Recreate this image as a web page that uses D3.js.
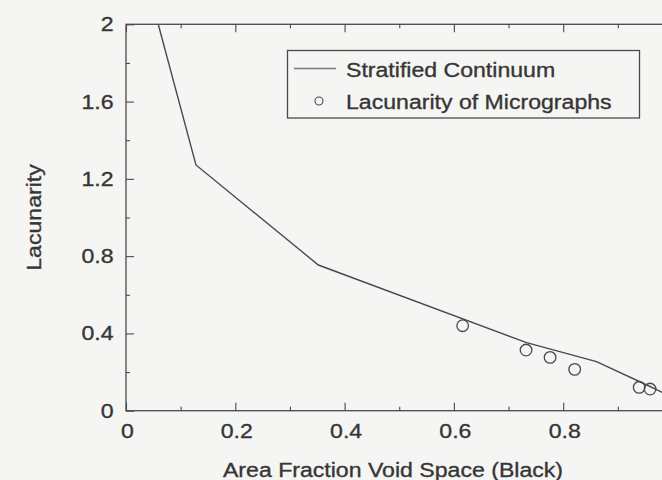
<!DOCTYPE html>
<html>
<head>
<meta charset="utf-8">
<script src="https://cdn.jsdelivr.net/npm/d3@7"></script>
<style>
  html, body { margin: 0; padding: 0; background: #f5f5f4; }
  svg { display: block; }
  text { font-family: "Liberation Sans", Arial, Helvetica, sans-serif; fill: #363636; stroke: #363636; stroke-width: 0.35; }
</style>
</head>
<body>
<svg id="chart" width="662" height="480"></svg>
<script>
// Stratified continuum model curve (area fraction -> lacunarity)
const continuumX = [0.059, 0.128, 0.352, 0.733, 0.861, 0.953, 1.0];
const continuumY = [2.0, 1.272, 0.754, 0.352, 0.254, 0.133, 0.07];

// Measured lacunarity of the micrographs
const microX = [0.616, 0.732, 0.776, 0.821, 0.939, 0.959];
const microY = [0.44, 0.314, 0.276, 0.214, 0.121, 0.112];

// Axis ticks and labels
const xMajorTicks = [0, 0.2, 0.4, 0.6, 0.8, 1.0];
const xLabelTicks = [0, 0.2, 0.4, 0.6, 0.8];
const xTickLabels = ["0", "0.2", "0.4", "0.6", "0.8"];
const xMinorTicks = [0.1, 0.3, 0.5, 0.7, 0.9];
const yMajorTicks = [0, 0.4, 0.8, 1.2, 1.6, 2.0];
const yTickLabels = ["0", "0.4", "0.8", "1.2", "1.6", "2"];
const yMinorTicks = [0.2, 0.6, 1.0, 1.4, 1.8];

const seriesNames = ["Stratified Continuum", "Lacunarity of Micrographs"];
const xTitle = "Area Fraction Void Space (Black)";
const yTitle = "Lacunarity";

const svg = d3.select("#chart");
const ink = "#4a4a4a";
const fontSize = 21;
const stretch = 1.1;   // wide letterforms of the printed figure

const x = d3.scaleLinear().domain([0, 1]).range([126, 672.5]);
const y = d3.scaleLinear().domain([0, 2]).range([410.7, 24.3]);

const plot = svg.append("g");

// Frame
plot.append("rect")
  .attr("x", x(0)).attr("y", y(2))
  .attr("width", x(1) - x(0)).attr("height", y(0) - y(2))
  .attr("fill", "none").attr("stroke", ink).attr("stroke-width", 1.3);

// Inward ticks on all four sides
function ticks(axisGen, transform) {
  const g = plot.append("g").attr("transform", transform).call(axisGen);
  g.select(".domain").remove();
  g.selectAll("line").attr("stroke", ink).attr("stroke-width", 1.1);
  g.selectAll("text").remove();
}
ticks(d3.axisBottom(x).tickValues(xMajorTicks).tickSize(-8), `translate(0,${y(0)})`);
ticks(d3.axisBottom(x).tickValues(xMinorTicks).tickSize(-4), `translate(0,${y(0)})`);
ticks(d3.axisTop(x).tickValues(xMajorTicks).tickSize(-8), `translate(0,${y(2)})`);
ticks(d3.axisTop(x).tickValues(xMinorTicks).tickSize(-4), `translate(0,${y(2)})`);
ticks(d3.axisLeft(y).tickValues(yMajorTicks).tickSize(-8), `translate(${x(0)},0)`);
ticks(d3.axisLeft(y).tickValues(yMinorTicks).tickSize(-4), `translate(${x(0)},0)`);
ticks(d3.axisRight(y).tickValues(yMajorTicks).tickSize(-8), `translate(${x(1)},0)`);
ticks(d3.axisRight(y).tickValues(yMinorTicks).tickSize(-4), `translate(${x(1)},0)`);

// Tick labels
svg.append("g").selectAll("text").data(xLabelTicks).join("text")
  .attr("transform", d => `translate(${x(d) + 1.5},438) scale(${stretch},1)`)
  .attr("text-anchor", "middle").attr("font-size", fontSize)
  .text((d, i) => xTickLabels[i]);

svg.append("g").selectAll("text").data(yMajorTicks).join("text")
  .attr("transform", d => `translate(113.5,${y(d) + 7}) scale(${stretch},1)`)
  .attr("text-anchor", "end").attr("font-size", fontSize)
  .text((d, i) => yTickLabels[i]);

// Axis titles
svg.append("text")
  .attr("transform", `translate(393,476.5) scale(${stretch},1)`)
  .attr("text-anchor", "middle").attr("font-size", fontSize)
  .text(xTitle);

svg.append("text")
  .attr("transform", `translate(41,217.5) rotate(-90) scale(${stretch},1)`)
  .attr("text-anchor", "middle").attr("font-size", fontSize)
  .text(yTitle);

// Continuum curve
const curve = continuumX.map((d, i) => [d, continuumY[i]]);
plot.append("path")
  .datum(curve)
  .attr("fill", "none").attr("stroke", ink).attr("stroke-width", 1.4)
  .attr("d", d3.line().x(d => x(d[0])).y(d => y(d[1])));

// Micrograph points
plot.append("g").selectAll("circle").data(microX).join("circle")
  .attr("cx", d => x(d)).attr("cy", (d, i) => y(microY[i]))
  .attr("r", 5.8)
  .attr("fill", "none").attr("stroke", ink).attr("stroke-width", 1.3);

// Legend
const legend = svg.append("g");
legend.append("rect")
  .attr("x", 287.5).attr("y", 50.5).attr("width", 352).attr("height", 67.5)
  .attr("fill", "#f5f5f4").attr("stroke", ink).attr("stroke-width", 1.3);
legend.append("line")
  .attr("x1", 294).attr("x2", 336).attr("y1", 68.5).attr("y2", 68.5)
  .attr("stroke", "#767676").attr("stroke-width", 1.3);
legend.append("circle")
  .attr("cx", 319).attr("cy", 101).attr("r", 4)
  .attr("fill", "none").attr("stroke", ink).attr("stroke-width", 1.1);
legend.selectAll("text.lbl").data(seriesNames).join("text")
  .attr("class", "lbl")
  .attr("transform", (d, i) => `translate(346,${77 + i * 32.3}) scale(${stretch},1)`)
  .attr("font-size", fontSize)
  .text(d => d);
</script>
</body>
</html>
